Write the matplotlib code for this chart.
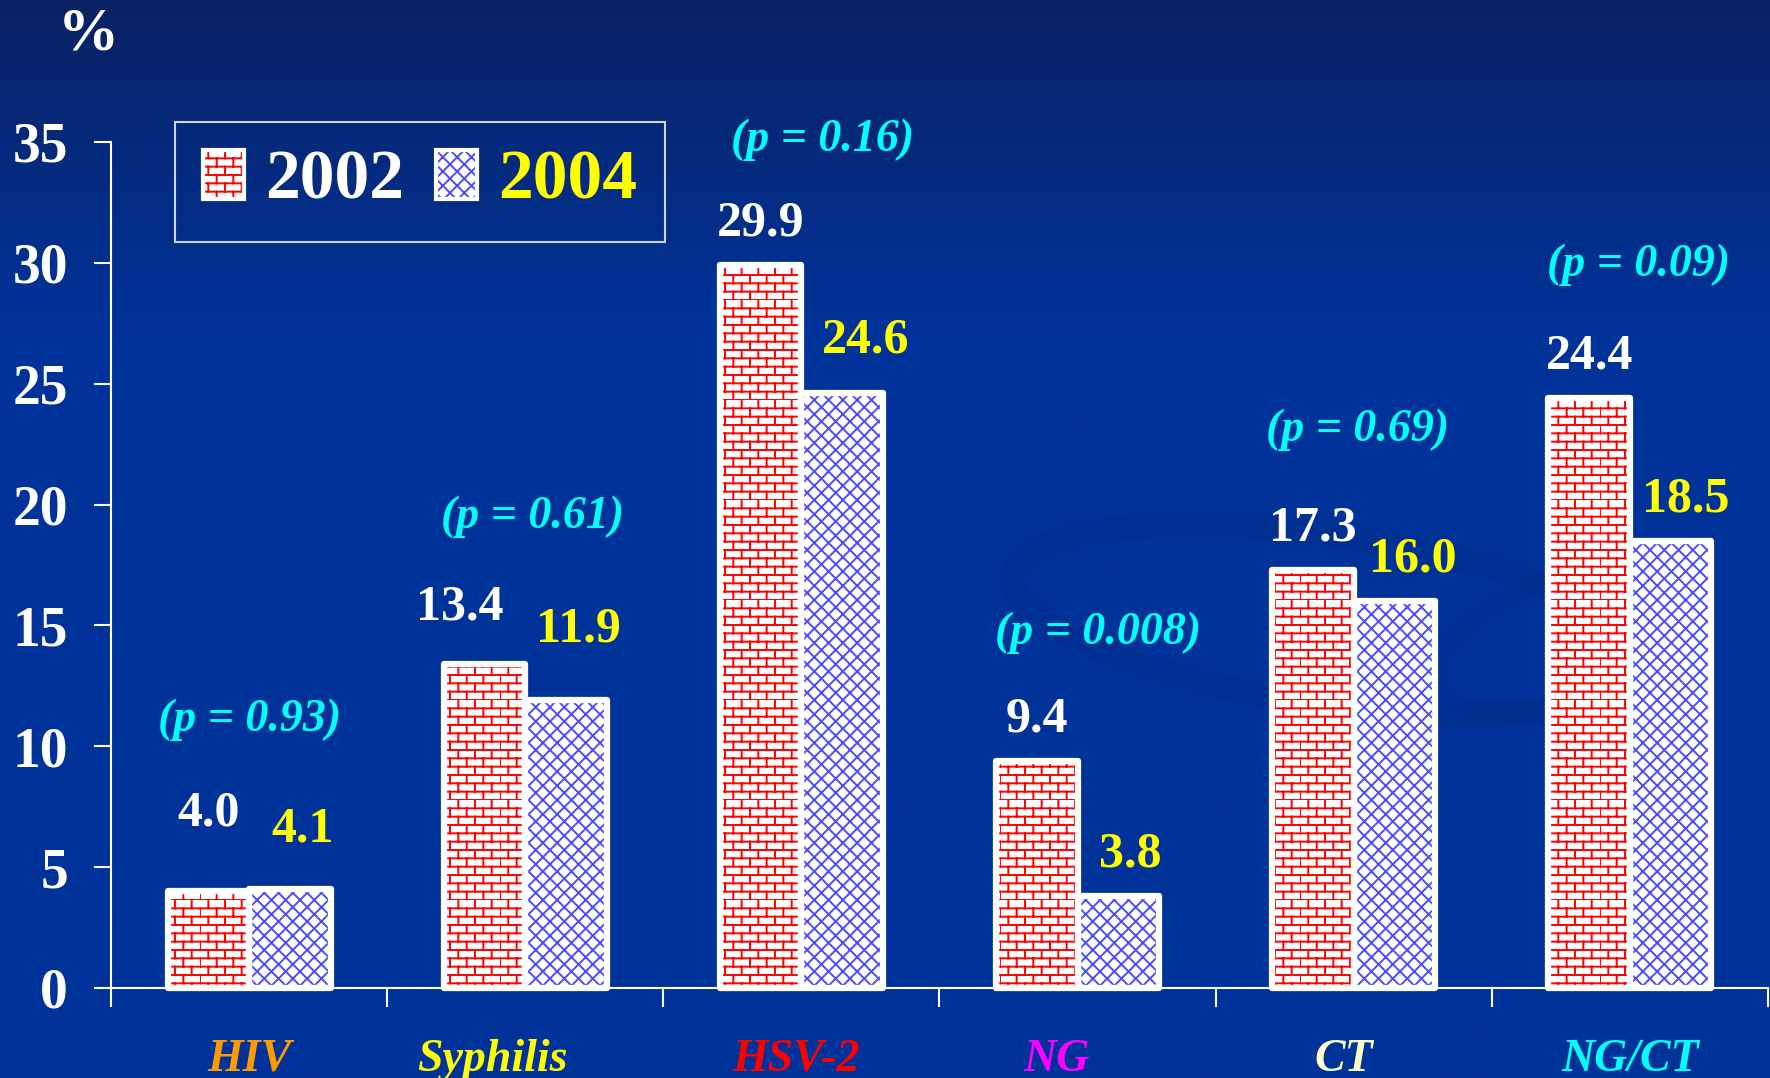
import warnings
import numpy as np
import matplotlib
matplotlib.use("Agg")
import matplotlib.pyplot as plt
import matplotlib.hatch as mhatch
import matplotlib.transforms as mtransforms
from matplotlib.path import Path
from matplotlib.patches import Rectangle, Ellipse, Arc
from matplotlib.legend_handler import HandlerTuple

warnings.filterwarnings("ignore")

# ---- data ----
categories = ["HIV", "Syphilis", "HSV-2", "NG", "CT", "NG/CT"]
cat_colors = ["#FF9900", "#FFFF00", "#FF0000", "#FF00FF", "#FFFFCC", "#00FFFF"]
series     = ["2002", "2004"]
vals_2002  = [4.0, 13.4, 29.9, 9.4, 17.3, 24.4]
vals_2004  = [4.1, 11.9, 24.6, 3.8, 16.0, 18.5]
p_labels   = ["(p = 0.93)", "(p = 0.61)", "(p = 0.16)",
              "(p = 0.008)", "(p = 0.69)", "(p = 0.09)"]
yticks     = [0, 5, 10, 15, 20, 25, 30, 35]

# label nudges as they sit on the slide (data units)
lift_2002 = [1.5, 0.6, 0.0, 0.0, 0.0, 0.0]
lift_2004 = [0.75, 1.2, 0.45, 0.0, 0.0, 0.0]
lift_p    = [7.0, 6.1, 5.2, 5.3, 5.8, 5.5]
nudge_2002 = [0.0, -0.09, 0.0, 0.0, 0.0, 0.0]
nudge_2004 = [0.045, 0.045, 0.085, 0.045, 0.065, 0.055]
nudge_p    = [0.0, 0.025, 0.075, 0.075, 0.015, 0.03]
nudge_cat  = [0.0, -0.118, -0.02, -0.077, -0.037, 0.0]

BG_TOP  = "#0a2263"
BG_MAIN = "#003399"
SWOOSH  = "#002b85"

plt.rcParams["font.family"] = ["Liberation Serif", "DejaVu Serif"]
plt.rcParams["font.weight"] = "bold"
plt.rcParams["hatch.linewidth"] = 1.4


# ---- custom hatches: 'b' brick wall, 'c' fine diagonal lattice ----
class BrickHatch(mhatch.HatchPatternBase):
    rows, cols = 12, 6

    def __init__(self, hatch, density):
        on = hatch.count("b") > 0
        self.num_vertices = (self.rows + self.rows * self.cols) * 2 if on else 0

    def set_vertices_and_codes(self, vertices, codes):
        r, c = self.rows, self.cols
        k = 0
        for i in range(r):
            vertices[k] = (0.0, i / r); vertices[k + 1] = (1.0, i / r); k += 2
        for i in range(r):
            for j in range(c):
                xx = (j + 0.5 * (i % 2)) / c
                vertices[k] = (xx, i / r); vertices[k + 1] = (xx, (i + 1) / r); k += 2
        codes[0::2] = Path.MOVETO
        codes[1::2] = Path.LINETO


class LatticeHatch(mhatch.HatchPatternBase):
    n = 14

    def __init__(self, hatch, density):
        on = hatch.count("c") > 0
        self.num_vertices = (self.n + 1) * 4 if on else 0

    def set_vertices_and_codes(self, vertices, codes):
        steps = np.linspace(-0.5, 0.5, self.n + 1)
        m = self.n + 1
        ne = vertices[:2 * m]
        se = vertices[2 * m:]
        ne[0::2, 0] = steps; ne[0::2, 1] = -steps
        ne[1::2, 0] = 1 + steps; ne[1::2, 1] = 1 - steps
        se[0::2, 0] = steps; se[0::2, 1] = 1 + steps
        se[1::2, 0] = 1 + steps; se[1::2, 1] = steps
        codes[0::2] = Path.MOVETO
        codes[1::2] = Path.LINETO

mhatch._hatch_types.append(BrickHatch)
mhatch._hatch_types.append(LatticeHatch)

W, H = 1770, 1078
fig = plt.figure(figsize=(W / 100, H / 100), dpi=100)

# ---- background ----
bg = fig.add_axes([0, 0, 1, 1], zorder=-10)
t = np.linspace(0, 1, 400)
top = np.array(matplotlib.colors.to_rgb(BG_TOP))
main = np.array(matplotlib.colors.to_rgb(BG_MAIN))
mix = np.clip(t / 0.3, 0, 1)[:, None]
grad = top * (1 - mix) + main * mix
bg.imshow(grad[:, None, :], aspect="auto", extent=[0, W, H, 0])
bg.set_xlim(0, W); bg.set_ylim(H, 0)
bg.add_patch(Ellipse((1330, 620), 640, 170, angle=8, fill=False,
                     edgecolor=SWOOSH, lw=18, alpha=0.3))
bg.add_patch(Ellipse((1560, 640), 260, 120, angle=-20, fill=False,
                     edgecolor=SWOOSH, lw=14, alpha=0.25))
bg.add_patch(Arc((1500, 1180), 1300, 560, angle=-8, theta1=95, theta2=180,
                 edgecolor=SWOOSH, lw=22, alpha=0.35))
bg.add_patch(Arc((1560, 1120), 900, 500, angle=-10, theta1=60, theta2=110,
                 edgecolor=SWOOSH, lw=26, alpha=0.35))
bg.axis("off")

# ---- main axes ----
ax = fig.add_axes([111 / W, 90 / H, 1657 / W, 846 / H])
ax.set_facecolor("none")
x = np.arange(len(categories))
bw = 0.295
offs = [-bw / 2, bw / 2]
hatch_cols = ["#FF0000", "#4d4dff"]
hatches = ["b", "c"]
handles = []
for vals, off, hc, ht in zip([vals_2002, vals_2004], offs, hatch_cols, hatches):
    ax.bar(x + off, vals, bw, color="white", edgecolor=hc, linewidth=0,
           hatch=ht, zorder=2)
    ax.bar(x + off, vals, bw, fill=False, edgecolor="white", linewidth=4.5,
           joinstyle="round", zorder=3, clip_on=False)
    handles.append((Rectangle((0, 0), 1, 1, facecolor="white", edgecolor=hc,
                              lw=0, hatch=ht),
                    Rectangle((0, 0), 1, 1, fill=False, edgecolor="white",
                              lw=3, joinstyle="round")))

ax.set_xlim(-0.5, len(categories) - 0.5)
ax.set_ylim(0, 35)
ax.set_yticks(yticks)
ax.set_xticks(np.arange(-0.5, len(categories), 1.0))
ax.set_xticklabels([])
ax.tick_params(axis="y", length=12, width=1.5, colors="white", pad=19,
               labelsize=40)
ax.tick_params(axis="x", length=14, width=1.5, colors="white")
for s in ["top", "right"]:
    ax.spines[s].set_visible(False)
for s in ["left", "bottom"]:
    ax.spines[s].set_color("white")
    ax.spines[s].set_linewidth(1.5)

# value labels
for i in range(len(categories)):
    ax.text(x[i] + offs[0] + nudge_2002[i], vals_2002[i] + 1.23 + lift_2002[i],
            f"{vals_2002[i]:.1f}", ha="center", va="baseline", fontsize=36,
            color="white", zorder=5)
    ax.text(x[i] + offs[1] + nudge_2004[i], vals_2004[i] + 1.23 + lift_2004[i],
            f"{vals_2004[i]:.1f}", ha="center", va="baseline", fontsize=36,
            color="#FFFF00", zorder=5)
    top_v = max(vals_2002[i], vals_2004[i])
    ax.text(x[i] + nudge_p[i], top_v + lift_p[i], p_labels[i], ha="center",
            va="center", fontsize=33, style="italic", color="#00FFFF", zorder=5)

# category labels
trans = mtransforms.blended_transform_factory(ax.transData, ax.transAxes)
for i, (c, col) in enumerate(zip(categories, cat_colors)):
    ax.text(x[i] + nudge_cat[i], -0.085, c, transform=trans, ha="center",
            va="center", fontsize=33, style="italic", color=col, clip_on=False)

fig.text(88 / W, 1 - 34 / H, "%", ha="center", va="center", fontsize=44,
         color="white")

leg = ax.legend(handles, series, loc="upper left",
                bbox_to_anchor=(175 / W, 1 - 122 / H), bbox_transform=fig.transFigure,
                ncol=2, fontsize=50, frameon=True, fancybox=False,
                edgecolor="white", facecolor="none", handlelength=0.6,
                handleheight=0.7, handletextpad=0.3, columnspacing=0.45,
                borderpad=0.4, borderaxespad=0,
                handler_map={tuple: HandlerTuple(ndivide=1)})
leg.get_frame().set_linewidth(1.5)
leg.get_texts()[0].set_color("white")
leg.get_texts()[1].set_color("#FFFF00")

fig.savefig("out.png", dpi=100)
